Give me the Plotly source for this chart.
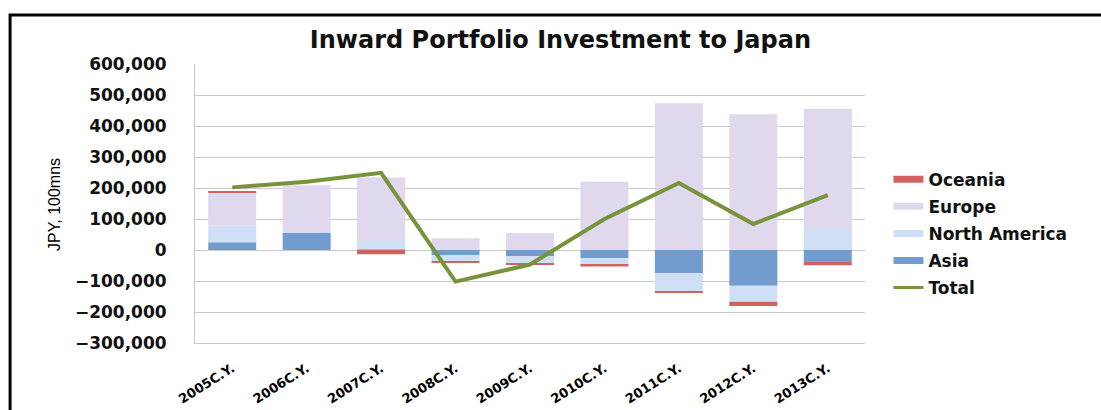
import plotly.graph_objects as go

years = ['2005C.Y.', '2006C.Y.', '2007C.Y.', '2008C.Y.', '2009C.Y.',
         '2010C.Y.', '2011C.Y.', '2012C.Y.', '2013C.Y.']

# JPY, 100 mns
asia = [25000, 56000, 2000, -16000, -19000, -27000, -75000, -115000, -36000]
north_america = [53000, 2000, 27000, -21000, -24000, -20000, -59000, -52000, 68000]
europe = [107000, 151000, 205000, 38000, 55000, 220000, 473000, 438000, 387000]
oceania = [3000, 0, -14000, -4000, -4000, -6000, -4000, -14000, -13000]
total = [202000, 220000, 249000, -102000, -47000, 100000, 216000, 84000, 177000]

colors = {'Oceania': '#d0635f', 'Europe': '#e0d8ec',
          'North America': '#cfe0f6', 'Asia': '#739cce', 'Total': '#77933c'}

fig = go.Figure()

# legend entries drawn as wide swatches (added first so the legend keeps this order)
for name in ['Oceania', 'Europe', 'North America', 'Asia', 'Total']:
    fig.add_trace(go.Scatter(name=name, x=[None], y=[None], mode='lines', legendgroup=name,
                             line=dict(color=colors[name], width=3 if name == 'Total' else 7)))

# stacking order: Asia nearest zero, then North America, Europe, Oceania
for name, vals in [('Asia', asia), ('North America', north_america),
                   ('Europe', europe), ('Oceania', oceania)]:
    fig.add_trace(go.Bar(name=name, x=years, y=vals, legendgroup=name, showlegend=False,
                         marker=dict(color=colors[name], line=dict(width=0)),
                         hovertemplate='%{x}: %{y:,}<extra>' + name + '</extra>'))

fig.add_trace(go.Scatter(name='Total', x=years, y=total, mode='lines', legendgroup='Total',
                         showlegend=False, line=dict(color=colors['Total'], width=4)))

grid = '#c9c9c9'
fig.update_layout(
    width=1101, height=410,
    margin=dict(l=195, r=236, t=64, b=67),
    barmode='relative', bargap=0.355,
    paper_bgcolor='white', plot_bgcolor='white',
    font=dict(family='DejaVu Sans', color='black'),
    title=dict(text='<b>Inward Portfolio Investment to Japan</b>', x=0.509, y=0.903,
               xref='container', yref='container', xanchor='center', yanchor='middle',
               font=dict(size=24, color='#111111')),
    legend=dict(x=1.035, y=0.65, xanchor='left', yanchor='top', traceorder='grouped',
                tracegroupgap=2, font=dict(size=17, color='#111111', weight='bold'), itemwidth=30),
    xaxis=dict(type='category', tickangle=-32, tickfont=dict(size=13, weight='bold'),
               showgrid=False, showline=True, linecolor=grid, ticks='',
               ticklabelstandoff=12, automargin=False),
    yaxis=dict(range=[-300000, 600000], dtick=100000, tickformat=',d',
               tickfont=dict(size=17, weight='bold', color='#111111'),
               showgrid=True, gridcolor=grid, zeroline=False, automargin=False,
               showline=True, linecolor=grid, ticks='', ticklabelstandoff=24),
    annotations=[dict(text='JPY, 100mns', textangle=-90, x=-0.2104, y=0.4946,
                      xref='paper', yref='paper', xanchor='center', yanchor='middle',
                      showarrow=False,
                      font=dict(size=16, family='Liberation Sans Narrow, Liberation Sans'))],
    shapes=[dict(type='path', xref='paper', yref='paper',
                 path='M -0.276 -0.4 L -0.276 1.1756 L 1.45 1.1756',
                 line=dict(color='black', width=3))],
)

fig.write_html("out.html", config={'displayModeBar': False},
               post_script="document.body.style.margin='0';")
